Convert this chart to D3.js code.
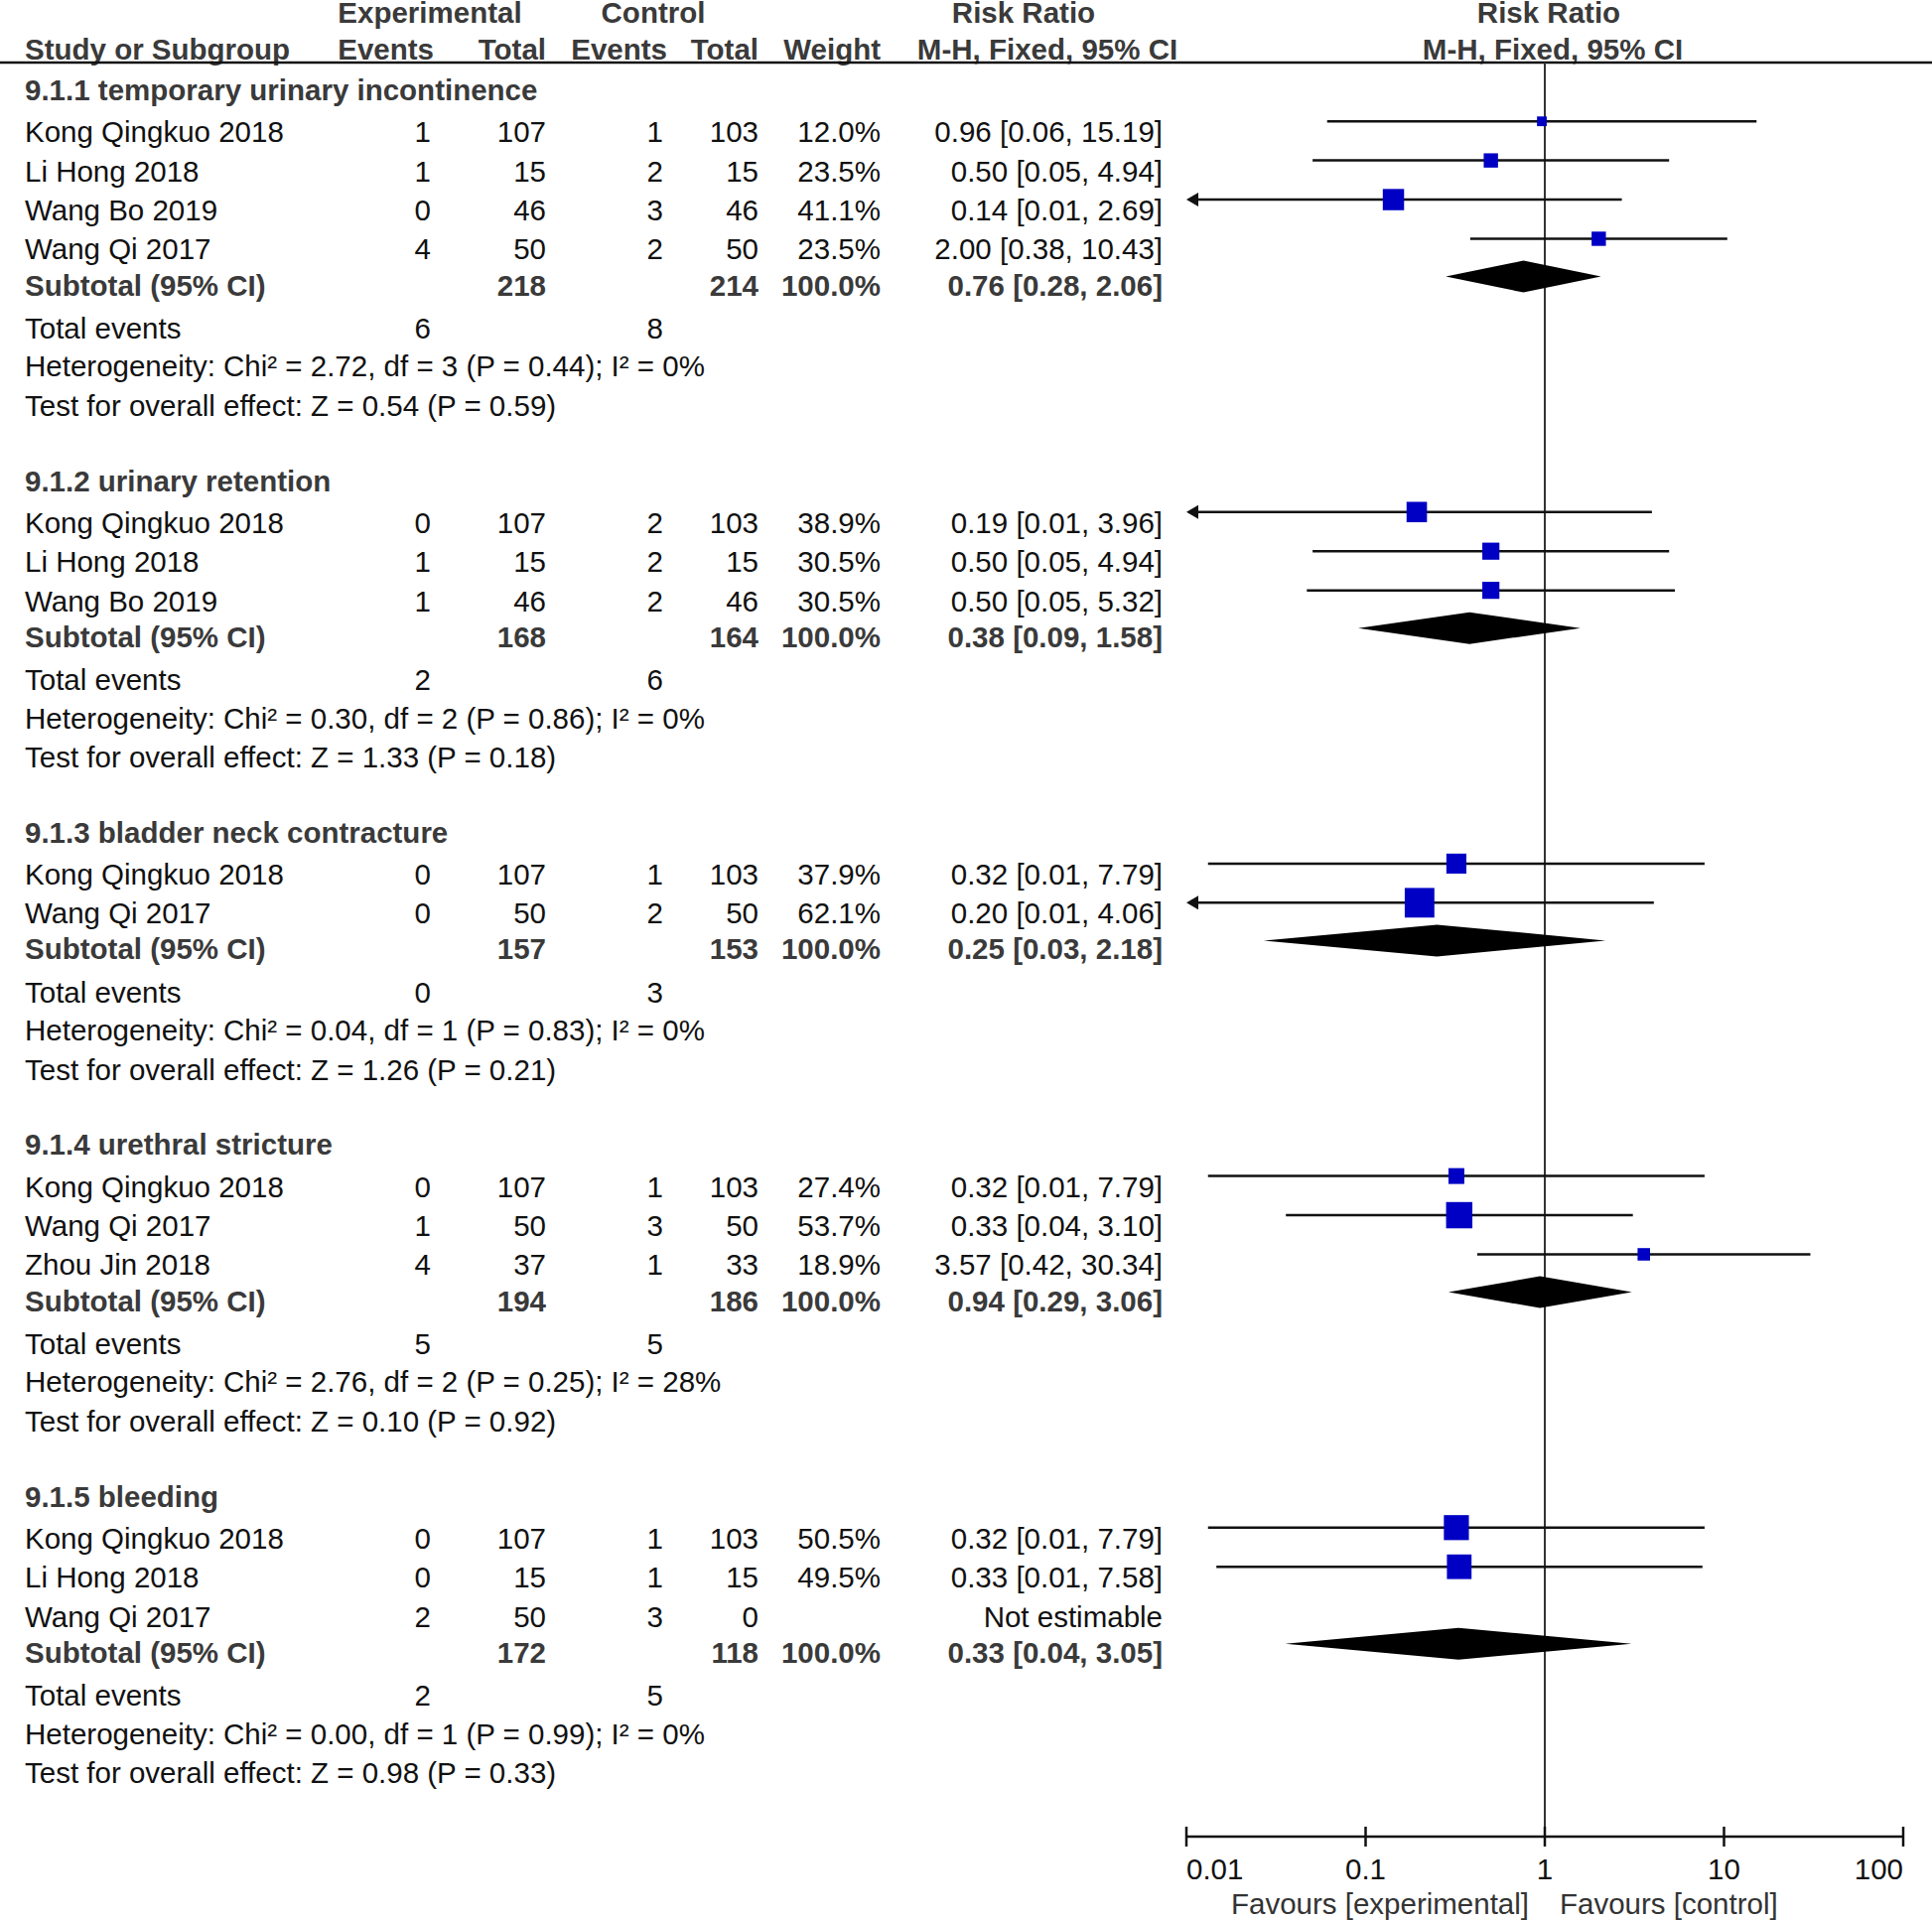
<!DOCTYPE html>
<html>
<head>
<meta charset="utf-8">
<script src="https://cdn.jsdelivr.net/npm/d3@7"></script>
<style>
  html, body { margin: 0; padding: 0; background: #fff; }
  svg { display: block; }
  text { font-family: "Liberation Sans", Arial, Helvetica, sans-serif; }
</style>
</head>
<body>
<div id="chart"></div>
<script>
// ---------------- DATA ----------------
const groupNames = [
  "9.1.1 temporary urinary incontinence",
  "9.1.2 urinary retention",
  "9.1.3 bladder neck contracture",
  "9.1.4 urethral stricture",
  "9.1.5 bleeding"
];
const studyGroup = [0, 0, 0, 0, 1, 1, 1, 2, 2, 3, 3, 3, 4, 4, 4];
const studyNames = [
  "Kong Qingkuo 2018", "Li Hong 2018", "Wang Bo 2019", "Wang Qi 2017",
  "Kong Qingkuo 2018", "Li Hong 2018", "Wang Bo 2019",
  "Kong Qingkuo 2018", "Wang Qi 2017",
  "Kong Qingkuo 2018", "Wang Qi 2017", "Zhou Jin 2018",
  "Kong Qingkuo 2018", "Li Hong 2018", "Wang Qi 2017"
];
const expEvents = [1, 1, 0, 4, 0, 1, 1, 0, 0, 0, 1, 4, 0, 0, 2];
const expTotal  = [107, 15, 46, 50, 107, 15, 46, 107, 50, 107, 50, 37, 107, 15, 50];
const ctlEvents = [1, 2, 3, 2, 2, 2, 2, 1, 2, 1, 3, 1, 1, 1, 3];
const ctlTotal  = [103, 15, 46, 50, 103, 15, 46, 103, 50, 103, 50, 33, 103, 15, 0];
const weights   = [12.0, 23.5, 41.1, 23.5, 38.9, 30.5, 30.5, 37.9, 62.1, 27.4, 53.7, 18.9, 50.5, 49.5, null];
const rr        = [0.963, 0.50, 0.143, 2.00, 0.193, 0.50, 0.50, 0.321, 0.20, 0.321, 0.333, 3.568, 0.321, 0.333, null];
const ciLow     = [0.061, 0.0506, 0.0076, 0.3835, 0.0094, 0.0506, 0.047, 0.0132, 0.0098, 0.0132, 0.0359, 0.4196, 0.0132, 0.0147, null];
const ciHigh    = [15.19, 4.94, 2.69, 10.43, 3.96, 4.94, 5.32, 7.79, 4.06, 7.79, 3.10, 30.34, 7.79, 7.58, null];

const subExpTotal = [218, 168, 157, 194, 172];
const subCtlTotal = [214, 164, 153, 186, 118];
const subRR       = [0.76, 0.38, 0.25, 0.94, 0.33];
const subLow      = [0.28, 0.091, 0.027, 0.29, 0.0356];
const subHigh     = [2.06, 1.58, 2.18, 3.06, 3.05];
const totExpEvents = [6, 2, 0, 5, 2];
const totCtlEvents = [8, 6, 3, 5, 5];
const hetChi2 = ["2.72", "0.30", "0.04", "2.76", "0.00"];
const hetDf   = [3, 2, 1, 2, 1];
const hetP    = ["0.44", "0.86", "0.83", "0.25", "0.99"];
const hetI2   = [0, 0, 0, 28, 0];
const effZ    = ["0.54", "1.33", "1.26", "0.10", "0.98"];
const effP    = ["0.59", "0.18", "0.21", "0.92", "0.33"];

const axisTicks = [0.01, 0.1, 1, 10, 100];
const axisTickLabels = ["0.01", "0.1", "1", "10", "100"];
const favLeft = "Favours [experimental]";
const favRight = "Favours [control]";

// ---------------- LAYOUT ----------------
const W = 1946, H = 1934;
const FS = 29.5;
const colStudy = 25, colExpEv = 434, colExpTot = 550, colCtlEv = 668,
      colCtlTot = 764, colWeight = 887, colCI = 1171;
const normalColor = "#111", boldColor = "#3a3a3a";

const svg = d3.select("#chart").append("svg")
  .attr("width", W).attr("height", H)
  .style("background", "#fff");

const x = d3.scaleLog().domain([0.01, 100]).range([1195, 1917]);
const sizeScale = d3.scaleLinear().domain([0, 100]).range([5, 45]);
const f2 = d3.format(".2f"), f1 = d3.format(".1f");

// build row positions (in row units)
const items = [];
let u = 0;
groupNames.forEach((g, gi) => {
  if (gi > 0) u += 1.92;
  items.push({type: "head", gi, u});
  const idx = studyGroup.map((g2, i) => g2 === gi ? i : -1).filter(i => i >= 0);
  idx.forEach((si, k) => { u += (k === 0 ? 1.07 : 1); items.push({type: "study", si, u}); });
  u += 0.914; items.push({type: "sub", gi, u});
  u += 1.1;   items.push({type: "tot", gi, u});
  u += 0.977; items.push({type: "het", gi, u});
  u += 1.0;   items.push({type: "test", gi, u});
});
const y = d3.scaleLinear().domain([0, u]).range([101, 1796]);

function txt(xp, yp, s, anchor, bold, color) {
  return svg.append("text")
    .attr("x", xp).attr("y", yp)
    .attr("text-anchor", anchor || "start")
    .attr("font-size", FS)
    .attr("font-weight", bold ? "bold" : "normal")
    .attr("fill", color || (bold ? boldColor : normalColor))
    .text(s);
}

// ---------------- HEADER ----------------
txt(433, 23, "Experimental", "middle", true);
txt(658, 23, "Control", "middle", true);
txt(1031, 23, "Risk Ratio", "middle", true);
txt(1560, 23, "Risk Ratio", "middle", true);
txt(colStudy, 60, "Study or Subgroup", "start", true);
txt(437, 60, "Events", "end", true);
txt(colExpTot, 60, "Total", "end", true);
txt(672, 60, "Events", "end", true);
txt(colCtlTot, 60, "Total", "end", true);
txt(colWeight, 60, "Weight", "end", true);
txt(1055, 60, "M-H, Fixed, 95% CI", "middle", true);
txt(1564, 60, "M-H, Fixed, 95% CI", "middle", true);

svg.append("line").attr("x1", 0).attr("x2", W).attr("y1", 63).attr("y2", 63)
  .attr("stroke", "#111").attr("stroke-width", 2.5);

// vertical line at RR = 1
const axisY = 1850;
svg.append("line").attr("x1", x(1)).attr("x2", x(1)).attr("y1", 63).attr("y2", axisY)
  .attr("stroke", "#333").attr("stroke-width", 2);

// ---------------- ROWS ----------------
items.forEach(it => {
  const yb = y(it.u);
  if (it.type === "head") {
    txt(colStudy, yb, groupNames[it.gi], "start", true);
  } else if (it.type === "study") {
    const i = it.si;
    txt(colStudy, yb, studyNames[i]);
    txt(colExpEv, yb, expEvents[i], "end");
    txt(colExpTot, yb, expTotal[i], "end");
    txt(colCtlEv, yb, ctlEvents[i], "end");
    txt(colCtlTot, yb, ctlTotal[i], "end");
    if (weights[i] == null) {
      txt(colCI, yb, "Not estimable", "end");
    } else {
      txt(colWeight, yb, f1(weights[i]) + "%", "end");
      txt(colCI, yb, f2(rr[i]) + " [" + f2(ciLow[i]) + ", " + f2(ciHigh[i]) + "]", "end");
      const ym = yb - 21;
      const lo = Math.max(ciLow[i], 0.01), hi = Math.min(ciHigh[i], 100);
      const arrowL = ciLow[i] < 0.01;
      svg.append("line")
        .attr("x1", x(lo) + (arrowL ? 6 : 0)).attr("x2", x(hi))
        .attr("y1", ym).attr("y2", ym)
        .attr("stroke", "#111").attr("stroke-width", 2.5);
      if (arrowL) {
        const ax = x(0.01);
        svg.append("path")
          .attr("d", `M${ax},${ym} L${ax + 12},${ym - 7} L${ax + 12},${ym + 7} Z`)
          .attr("fill", "#111");
      }
      const s = sizeScale(weights[i]);
      svg.append("rect")
        .attr("x", x(rr[i]) - s / 2).attr("y", ym - s / 2)
        .attr("width", s).attr("height", s)
        .attr("fill", "#0000c4");
    }
  } else if (it.type === "sub") {
    const g = it.gi;
    txt(colStudy, yb, "Subtotal (95% CI)", "start", true);
    txt(colExpTot, yb, subExpTotal[g], "end", true);
    txt(colCtlTot, yb, subCtlTotal[g], "end", true);
    txt(colWeight, yb, "100.0%", "end", true);
    txt(colCI, yb, f2(subRR[g]) + " [" + f2(subLow[g]) + ", " + f2(subHigh[g]) + "]", "end", true);
    const ym = yb - 19, hh = 16;
    svg.append("path")
      .attr("d", `M${x(subLow[g])},${ym} L${x(subRR[g])},${ym - hh} L${x(subHigh[g])},${ym} L${x(subRR[g])},${ym + hh} Z`)
      .attr("fill", "#000");
  } else if (it.type === "tot") {
    const g = it.gi;
    txt(colStudy, yb, "Total events");
    txt(colExpEv, yb, totExpEvents[g], "end");
    txt(colCtlEv, yb, totCtlEvents[g], "end");
  } else if (it.type === "het") {
    const g = it.gi;
    txt(colStudy, yb, `Heterogeneity: Chi² = ${hetChi2[g]}, df = ${hetDf[g]} (P = ${hetP[g]}); I² = ${hetI2[g]}%`);
  } else if (it.type === "test") {
    const g = it.gi;
    txt(colStudy, yb, `Test for overall effect: Z = ${effZ[g]} (P = ${effP[g]})`);
  }
});

// ---------------- AXIS ----------------
svg.append("line").attr("x1", x(0.01)).attr("x2", x(100)).attr("y1", axisY).attr("y2", axisY)
  .attr("stroke", "#111").attr("stroke-width", 2.5);
axisTicks.forEach((t, k) => {
  svg.append("line").attr("x1", x(t)).attr("x2", x(t)).attr("y1", axisY - 10).attr("y2", axisY + 10)
    .attr("stroke", "#111").attr("stroke-width", 2.5);
  const anchor = k === 0 ? "start" : (k === axisTicks.length - 1 ? "end" : "middle");
  txt(x(t), 1893, axisTickLabels[k], anchor, false, "#111");
});
txt(1540, 1928, favLeft, "end", false, "#333");
txt(1571, 1928, favRight, "start", false, "#333");
</script>
</body>
</html>
